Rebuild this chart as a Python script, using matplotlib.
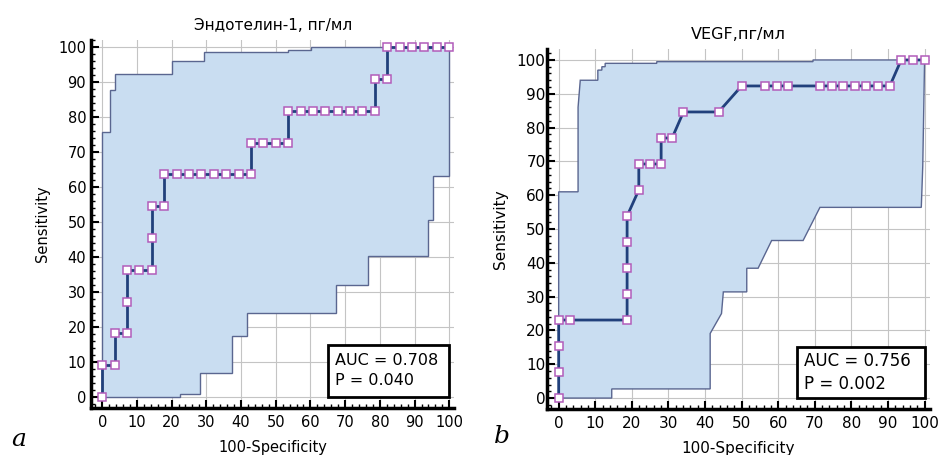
import matplotlib
matplotlib.use("Agg")
import matplotlib.pyplot as plt
from matplotlib.patches import Rectangle
from matplotlib.ticker import MultipleLocator

# --- panel a: Эндотелин-1 ---
endo_x = [0, 0, 3.57, 3.57, 7.14, 7.14, 7.14, 10.71, 14.29, 14.29, 14.29, 17.86, 17.86,
          21.43, 25, 28.57, 32.14, 35.71, 39.29, 42.86,
          42.86, 46.43, 50, 53.57,
          53.57, 57.14, 60.71, 64.29, 67.86, 71.43, 75, 78.57,
          78.57, 82.14,
          82.14, 85.71, 89.29, 92.86, 96.43, 100]
endo_y = [0, 9.09, 9.09, 18.18, 18.18, 27.27, 36.36, 36.36, 36.36, 45.45, 54.55, 54.55, 63.64,
          63.64, 63.64, 63.64, 63.64, 63.64, 63.64, 63.64,
          72.73, 72.73, 72.73, 72.73,
          81.82, 81.82, 81.82, 81.82, 81.82, 81.82, 81.82, 81.82,
          90.91, 90.91,
          100, 100, 100, 100, 100, 100]
endo_up_x = [0, 0, 2.3, 2.3, 3.8, 3.8, 20.1, 20.1, 29.2, 29.2, 53.6, 53.6, 60.3, 60.3, 100]
endo_up_y = [0, 75.6, 75.6, 87.8, 87.8, 92.2, 92.2, 96.0, 96.0, 98.5, 98.5, 99.2, 99.2, 100, 100]
endo_lo_x = [0, 22.5, 22.5, 28.2, 28.2, 37.3, 37.3, 41.8, 41.8, 67.5, 67.5, 76.6, 76.6,
             93.8, 93.8, 95.2, 95.2, 100, 100]
endo_lo_y = [0, 0, 1, 1, 6.8, 6.8, 17.5, 17.5, 24, 24, 32, 32, 40.3,
             40.3, 50.6, 50.6, 63.3, 63.3, 100]

# --- panel b: VEGF ---
vegf_x = [0, 0, 0, 0, 3.0, 18.7, 18.7, 18.7, 18.7, 18.7, 21.9, 21.9, 24.9, 28.0, 28.0, 31.0,
          34.1, 43.7, 50.0, 56.4, 59.6, 62.8, 71.4, 74.6, 77.7, 80.9, 84.1, 87.3, 90.5,
          93.6, 96.8, 100]
vegf_y = [0, 7.69, 15.38, 23.08, 23.08, 23.08, 30.77, 38.46, 46.15, 53.85, 61.54, 69.23,
          69.23, 69.23, 76.92, 76.92, 84.62, 84.62, 92.31, 92.31, 92.31, 92.31, 92.31,
          92.31, 92.31, 92.31, 92.31, 92.31, 92.31, 100, 100, 100]
vegf_up_x = [0, 0, 5.3, 5.3, 5.9, 10.7, 10.7, 11.8, 11.8, 12.7, 12.7, 26.8, 26.8, 69.5, 69.5, 100]
vegf_up_y = [0, 61, 61, 86, 94, 94, 97, 97, 98, 98, 99, 99, 99.5, 99.5, 100, 100]
vegf_lo_x = [0, 14.5, 14.5, 41.4, 41.4, 44.5, 45, 51.4, 51.4, 54.5, 58.2, 66.8, 71.4,
             99.1, 99.5, 100, 100]
vegf_lo_y = [0, 0, 2.7, 2.7, 19.1, 25, 31.4, 31.4, 38.4, 38.4, 46.6, 46.6, 56.4,
             56.4, 68.6, 100, 100]

titles = ["Эндотелин-1, пг/мл", "VEGF,пг/мл"]
auc_text = ["AUC = 0.708\nP = 0.040", "AUC = 0.756\nP = 0.002"]
ticks = [0, 10, 20, 30, 40, 50, 60, 70, 80, 90, 100]


def panel(ax, rx, ry, ux, uy, lx, ly, title, txt, fs, ylim):
    ax.set_xlim(-3.2, 101.5)
    ax.set_ylim(*ylim)
    ax.grid(True, color="#c4c4c4", lw=0.8, zorder=0)
    ax.set_axisbelow(True)
    px = ux + lx[::-1]
    py = uy + ly[::-1]
    ax.fill(px, py, facecolor="#c9ddf1", edgecolor="#5a6690", lw=1.0, zorder=2)
    ax.plot(rx, ry, color="#21407c", lw=2, marker="s", ms=5.5, mfc="white",
            mec="#b25cba", mew=1.1, zorder=4)
    ax.add_patch(Rectangle((65, 0), 35, 15, facecolor="white", edgecolor="black",
                           lw=2, zorder=5))
    ax.text(67, 7.6, txt, fontsize=fs + 1, va="center", ha="left", zorder=6,
            linespacing=1.35)
    ax.set_xticks(ticks)
    ax.set_yticks(ticks)
    ax.xaxis.set_minor_locator(MultipleLocator(2))
    ax.yaxis.set_minor_locator(MultipleLocator(2))
    ax.tick_params(which="major", direction="in", length=6, width=1.5, labelsize=fs)
    ax.tick_params(which="minor", direction="in", length=3, width=1)
    ax.tick_params(axis="x", pad=5)
    for s in ["top", "right"]:
        ax.spines[s].set_visible(False)
    for s in ["left", "bottom"]:
        ax.spines[s].set_linewidth(2.5)
    ax.set_title(title, fontsize=fs + 0.5, pad=7)
    ax.set_xlabel("100-Specificity", fontsize=fs, labelpad=7)
    ax.set_ylabel("Sensitivity", fontsize=fs, labelpad=6)


fig = plt.figure(figsize=(9.39, 4.55), dpi=100)
ax1 = fig.add_axes([0.097, 0.103, 0.387, 0.809])
ax2 = fig.add_axes([0.5825, 0.101, 0.408, 0.791])

panel(ax1, endo_x, endo_y, endo_up_x, endo_up_y, endo_lo_x, endo_lo_y,
      titles[0], auc_text[0], 10.5, (-3.15, 102))
panel(ax2, vegf_x, vegf_y, vegf_up_x, vegf_up_y, vegf_lo_x, vegf_lo_y,
      titles[1], auc_text[1], 11, (-3.25, 103.2))
ax2.tick_params(axis="y", pad=1)

fig.text(0.02, 0.035, "a", fontsize=18, family="serif", style="italic", ha="center", va="center")
fig.text(0.535, 0.04, "b", fontsize=18, family="serif", style="italic", ha="center", va="center")

fig.savefig("out.png", dpi=100)
